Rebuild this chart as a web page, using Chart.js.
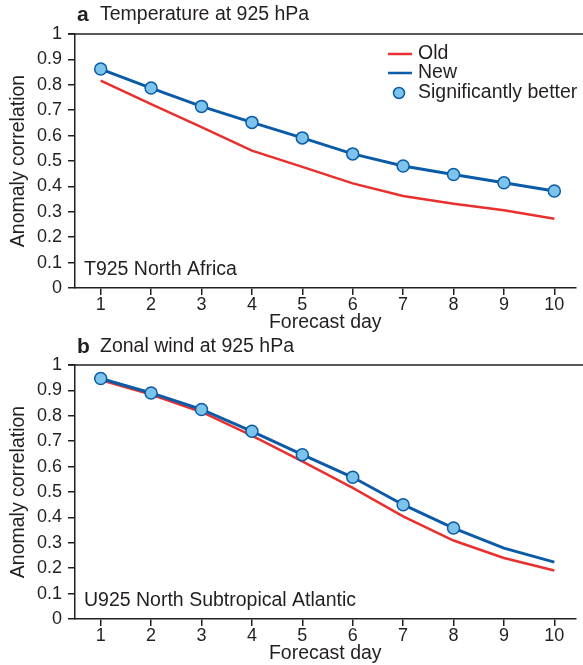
<!DOCTYPE html>
<html>
<head>
<meta charset="utf-8">
<script src="https://cdn.jsdelivr.net/npm/chart.js@4.4.1/dist/chart.umd.min.js"></script>
<style>
  html, body { margin: 0; padding: 0; background: #fff; }
  #wrap { position: relative; width: 583px; height: 665px; overflow: hidden; }
  canvas { position: absolute; left: 0; }
</style>
</head>
<body>
<div id="wrap">
  <canvas id="c1" width="583" height="334" style="top:0px"></canvas>
  <canvas id="c2" width="583" height="334" style="top:331px"></canvas>
</div>
<script>
// ---- data ----
const forecastDays = [1, 2, 3, 4, 5, 6, 7, 8, 9, 10];
const yTickValues = [0, 0.1, 0.2, 0.3, 0.4, 0.5, 0.6, 0.7, 0.8, 0.9, 1];
const yTickLabels = ['0', '0.1', '0.2', '0.3', '0.4', '0.5', '0.6', '0.7', '0.8', '0.9', '1'];

// Panel a: Temperature at 925 hPa, T925 North Africa
const tempOld = [0.816, 0.724, 0.633, 0.541, 0.477, 0.412, 0.362, 0.332, 0.306, 0.273];
const tempNew = [0.862, 0.787, 0.715, 0.652, 0.591, 0.528, 0.480, 0.447, 0.414, 0.382];
const tempSignificant = [true, true, true, true, true, true, true, true, true, true];

// Panel b: Zonal wind at 925 hPa, U925 North Subtropical Atlantic
const windOld = [0.941, 0.884, 0.815, 0.722, 0.621, 0.516, 0.404, 0.309, 0.240, 0.191];
const windNew = [0.947, 0.890, 0.825, 0.739, 0.647, 0.558, 0.450, 0.358, 0.279, 0.224];
const windSignificant = [true, true, true, true, true, true, true, true, false, false];

const legendLabels = ['Old', 'New', 'Significantly better'];

// ---- styles ----
const RED = '#E8302F';
const BLUE = '#0B5BA6';
const MARK = '#7CC4EC';
const INK = '#231F20';
const FONT = '"Liberation Sans", Arial, Helvetica, sans-serif';
const FS = 19.5;   // labels
const TFS = 18;    // tick labels

function xy(vals) { return forecastDays.map((d, i) => ({ x: d, y: vals[i] })); }
function sig(vals, flags) {
  return forecastDays.map((d, i) => flags[i] ? { x: d, y: vals[i] } : null).filter(p => p);
}

const decorPlugin = {
  id: 'decor',
  afterDraw(chart, args, opts) {
    const { ctx, chartArea: a } = chart;
    ctx.save();
    // top frame line
    ctx.strokeStyle = INK;
    ctx.lineWidth = 1.5;
    ctx.beginPath();
    ctx.moveTo(a.left - 7, a.top);
    ctx.lineTo(chart.width, a.top);
    ctx.stroke();
    // panel title
    ctx.fillStyle = INK;
    ctx.textBaseline = 'middle';
    ctx.textAlign = 'left';
    ctx.font = 'bold 21px ' + FONT;
    ctx.fillText(opts.letter, 77, opts.titleY);
    ctx.font = FS + 'px ' + FONT;
    ctx.fillText(opts.title, 100, opts.titleY);
    // inner region label
    ctx.fillText(opts.region, a.left + 9, a.bottom - 18);
    // legend
    if (opts.legend) {
      const lx = 388, tx = 418;
      const ys = [54, 73, 93];
      ctx.lineWidth = 2.5;
      ctx.strokeStyle = RED;
      ctx.beginPath(); ctx.moveTo(lx, ys[0]); ctx.lineTo(lx + 24, ys[0]); ctx.stroke();
      ctx.strokeStyle = BLUE;
      ctx.beginPath(); ctx.moveTo(lx, ys[1]); ctx.lineTo(lx + 24, ys[1]); ctx.stroke();
      ctx.fillStyle = MARK; ctx.strokeStyle = BLUE; ctx.lineWidth = 1.5;
      ctx.beginPath(); ctx.arc(lx + 11, ys[2], 5.5, 0, Math.PI * 2); ctx.fill(); ctx.stroke();
      ctx.fillStyle = INK;
      ctx.font = FS + 'px ' + FONT;
      legendLabels.forEach((t, i) => ctx.fillText(t, tx, ys[i]));
    }
    ctx.restore();
  }
};

function makeChart(id, oldVals, newVals, flags, decor) {
  return new Chart(document.getElementById(id), {
    type: 'line',
    data: {
      datasets: [
        { label: legendLabels[2], data: sig(newVals, flags), showLine: false,
          pointRadius: 6, pointBackgroundColor: MARK, pointBorderColor: BLUE,
          pointBorderWidth: 1.5, order: 0 },
        { label: legendLabels[1], data: xy(newVals), borderColor: BLUE, borderWidth: 3,
          pointRadius: 0, tension: 0, order: 1 },
        { label: legendLabels[0], data: xy(oldVals), borderColor: RED, borderWidth: 2.5,
          pointRadius: 0, tension: 0, order: 2 }
      ]
    },
    options: {
      responsive: false,
      animation: false,
      devicePixelRatio: 1,
      layout: { padding: { left: 0, right: 0, top: 34, bottom: 0 } },
      plugins: { legend: { display: false }, tooltip: { enabled: false }, decor: decor },
      scales: {
        x: {
          type: 'linear', min: 0.49, max: 10.42,
          afterBuildTicks: s => { s.ticks = forecastDays.map(v => ({ value: v })); },
          afterFit: s => { s.height = 46; },
          border: { display: true, color: INK, width: 1.5 },
          grid: { drawOnChartArea: false, drawTicks: true, tickLength: 7, color: INK, lineWidth: 1.5 },
          ticks: { color: INK, font: { family: FONT, size: TFS }, padding: -1, maxRotation: 0,
                   callback: v => String(v) },
          title: { display: true, text: 'Forecast day', color: INK,
                   font: { family: FONT, size: FS }, padding: { top: 0, bottom: 0 } }
        },
        y: {
          min: 0, max: 1,
          afterBuildTicks: s => { s.ticks = yTickValues.map(v => ({ value: v })); },
          afterFit: s => { s.width = 75; },
          border: { display: true, color: INK, width: 1.5 },
          grid: { drawOnChartArea: false, drawTicks: true, tickLength: 7, color: INK, lineWidth: 1.5 },
          ticks: { color: INK, font: { family: FONT, size: TFS }, padding: 6,
                   callback: (v) => yTickLabels[yTickValues.findIndex(t => Math.abs(t - v) < 1e-6)] },
          title: { display: true, text: 'Anomaly correlation', color: INK,
                   font: { family: FONT, size: FS }, padding: { top: 7, bottom: 0 } }
        }
      }
    },
    plugins: [decorPlugin]
  });
}

makeChart('c1', tempOld, tempNew, tempSignificant,
  { letter: 'a', title: 'Temperature at 925 hPa', titleY: 15, region: 'T925 North Africa', legend: true });
makeChart('c2', windOld, windNew, windSignificant,
  { letter: 'b', title: 'Zonal wind at 925 hPa', titleY: 16, region: 'U925 North Subtropical Atlantic', legend: false });
</script>
</body>
</html>
